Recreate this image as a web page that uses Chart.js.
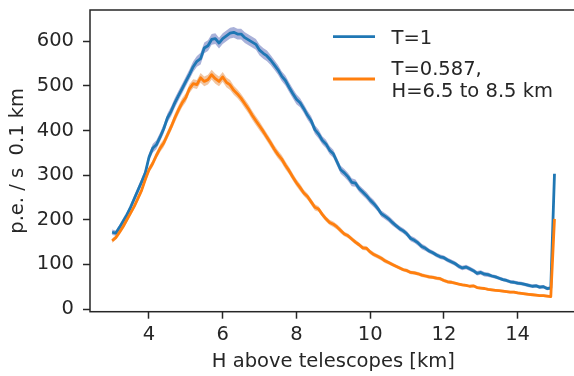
<!DOCTYPE html>
<html>
<head>
<meta charset="utf-8">
<script src="https://cdn.jsdelivr.net/npm/chart.js@4/dist/chart.umd.min.js"></script>
<style>
  html, body { margin: 0; padding: 0; background: #fff; overflow: hidden; }
  #wrap { width: 574px; height: 376px; overflow: hidden; }
</style>
</head>
<body>
<div id="wrap"><canvas id="chart" width="580" height="376"></canvas></div>
<script>
// --- DATOS ---
const alturas = [
  3.0, 3.1, 3.2, 3.3, 3.4, 3.5, 3.6, 3.7, 3.8, 3.9,
  4.0, 4.1, 4.2, 4.3, 4.4, 4.5, 4.6, 4.7, 4.8, 4.9,
  5.0, 5.1, 5.2, 5.3, 5.4, 5.5, 5.6, 5.7, 5.8, 5.9,
  6.0, 6.1, 6.2, 6.3, 6.4, 6.5, 6.6, 6.7, 6.8, 6.9,
  7.0, 7.1, 7.2, 7.3, 7.4, 7.5, 7.6, 7.7, 7.8, 7.9,
  8.0, 8.1, 8.2, 8.3, 8.4, 8.5, 8.6, 8.7, 8.8, 8.9,
  9.0, 9.1, 9.2, 9.3, 9.4, 9.5, 9.6, 9.7, 9.8, 9.9,
  10.0, 10.1, 10.2, 10.3, 10.4, 10.5, 10.6, 10.7, 10.8, 10.9,
  11.0, 11.1, 11.2, 11.3, 11.4, 11.5, 11.6, 11.7, 11.8, 11.9,
  12.0, 12.1, 12.2, 12.3, 12.4, 12.5, 12.6, 12.7, 12.8, 12.9,
  13.0, 13.1, 13.2, 13.3, 13.4, 13.5, 13.6, 13.7, 13.8, 13.9,
  14.0, 14.1, 14.2, 14.3, 14.4, 14.5, 14.6, 14.7, 14.8, 14.9,
  15.0
];

// T=1
const serieT1 = [
  172, 170, 183, 197, 211, 228, 247, 266, 285, 305,
  340, 360, 368, 385, 404, 428, 443, 462, 478, 494,
  510, 526, 543, 555, 561, 585, 590, 604, 606, 596,
  606, 612, 618, 620, 616, 616, 608, 603, 598, 593,
  580, 573, 567, 558, 547, 536, 522, 512, 497, 483,
  470, 462, 449, 434, 422, 402, 392, 378, 370, 356,
  348, 330, 312, 305, 296, 284, 282, 270, 262, 254,
  244, 236, 226, 214, 208, 202, 194, 187, 180, 175,
  168, 158, 154, 148, 140, 136, 130, 126, 121, 117,
  115, 110, 106, 102, 96, 92, 94, 90, 86, 80,
  82, 78, 77, 74, 72, 69, 66, 64, 61, 60,
  58, 57, 55, 53, 51, 52, 49, 50, 46, 47,
  303
];
const errorT1 = [
  6, 6, 6, 7, 7, 7, 8, 8, 8, 9,
  9, 10, 10, 10, 10, 10, 11, 11, 11, 11,
  11, 11, 12, 12, 13, 12, 12, 12, 12, 12,
  12, 12, 12, 12, 12, 12, 12, 12, 12, 12,
  12, 12, 12, 11, 11, 11, 11, 11, 11, 11,
  11, 10, 10, 10, 10, 10, 10, 9, 9, 9,
  9, 9, 9, 9, 9, 9, 8, 8, 8, 8,
  8, 8, 7, 7, 7, 7, 7, 6, 6, 6,
  6, 6, 6, 6, 6, 6, 5, 5, 5, 5,
  5, 5, 5, 5, 5, 5, 5, 5, 5, 5,
  5, 5, 5, 4, 4, 4, 4, 4, 4, 4,
  4, 4, 4, 4, 4, 4, 4, 4, 4, 4,
  7
];

// T=0.587, H=6.5 a 8.5 km
const serieT0587 = [
  153, 160, 172, 185, 200, 215, 230, 248, 266, 290,
  312, 326, 344, 360, 372, 390, 408, 428, 446, 462,
  474, 494, 505, 503, 518, 510, 514, 525, 516, 510,
  520, 508, 502, 490, 482, 472, 460, 448, 434, 422,
  410, 398, 385, 372, 358, 346, 336, 322, 310, 296,
  283, 272, 260, 252, 240, 228, 224, 212, 202, 194,
  190, 184, 176, 168, 164, 157, 150, 144, 137, 136,
  128, 122, 118, 114, 108, 104, 100, 96, 92, 88,
  86, 82, 81, 79, 76, 74, 72, 71, 69, 68,
  64, 61, 60, 58, 56, 54, 53, 51, 52, 48,
  47, 46, 44, 43, 42, 41, 40, 39, 38, 38,
  36, 35, 34, 33, 32, 31, 30, 30, 29, 28,
  202
];
const errorT0587 = [
  5, 5, 6, 6, 6, 6, 6, 7, 7, 7,
  7, 8, 8, 9, 9, 9, 9, 10, 10, 10,
  10, 10, 10, 10, 11, 11, 11, 11, 11, 11,
  11, 11, 11, 10, 10, 10, 10, 10, 10, 10,
  10, 9, 9, 9, 9, 9, 9, 9, 8, 8,
  8, 8, 7, 7, 7, 7, 6, 6, 6, 6,
  6, 6, 6, 5, 5, 5, 5, 5, 5, 5,
  5, 5, 5, 5, 5, 4, 4, 4, 4, 4,
  4, 4, 4, 4, 4, 4, 4, 4, 4, 4,
  4, 4, 4, 3, 3, 3, 3, 3, 3, 3,
  3, 3, 3, 3, 3, 3, 3, 3, 3, 3,
  3, 3, 3, 3, 3, 3, 3, 3, 3, 3,
  6
];

const etiquetasSeries = ['T=1', ['T=0.587,', 'H=6.5 to 8.5 km']];
const ticksX = [4, 6, 8, 10, 12, 14];
const ticksY = [0, 100, 200, 300, 400, 500, 600];

// --- ESTILO ---
const AZUL = '#1f77b4';
const NARANJA = '#ff7f0e';
const BANDA_AZUL = 'rgba(40, 60, 160, 0.4)';
const BANDA_NARANJA = 'rgba(220, 110, 20, 0.4)';
const TEXTO = '#262626';
const FUENTE = { family: 'DejaVu Sans', size: 19.5 };

// puntos {x, y}; si hay error se desplaza hacia arriba (+1) o abajo (-1)
function puntos(vals, err, signo) {
  return alturas.map((h, i) => ({ x: h, y: err ? vals[i] + signo * err[i] : vals[i] }));
}

function banda(vals, err, color, orden) {
  return [
    { data: puntos(vals, err, 1), borderWidth: 0, pointRadius: 0, fill: false, order: orden },
    { data: puntos(vals, err, -1), borderWidth: 0, pointRadius: 0, fill: '-1',
      backgroundColor: color, order: orden }
  ];
}

// marco completo (las 4 líneas del eje) + leyenda dentro del área
const marcoYLeyenda = {
  id: 'marcoYLeyenda',
  afterDraw(chart) {
    const { ctx, chartArea: a } = chart;
    ctx.save();
    ctx.strokeStyle = TEXTO;
    ctx.lineWidth = 1.5;
    ctx.strokeRect(a.left, a.top, a.right - a.left, a.bottom - a.top);

    ctx.font = `${FUENTE.size}px ${FUENTE.family}`;
    ctx.fillStyle = TEXTO;
    ctx.textBaseline = 'alphabetic';
    ctx.lineWidth = 2.8;

    ctx.strokeStyle = AZUL;
    ctx.beginPath(); ctx.moveTo(333, 36.7); ctx.lineTo(375, 36.7); ctx.stroke();
    ctx.fillText(etiquetasSeries[0], 391.5, 43.5);

    ctx.strokeStyle = NARANJA;
    ctx.beginPath(); ctx.moveTo(333, 79); ctx.lineTo(375, 79); ctx.stroke();
    ctx.fillText(etiquetasSeries[1][0], 391.5, 74.5);
    ctx.fillText(etiquetasSeries[1][1], 391.5, 96.8);
    ctx.restore();
  }
};

const chart = new Chart(document.getElementById('chart'), {
  type: 'line',
  data: {
    datasets: [
      { data: puntos(serieT0587), borderColor: NARANJA, borderWidth: 2.8,
        pointRadius: 0, fill: false, order: 0 },
      { data: puntos(serieT1), borderColor: AZUL, borderWidth: 2.8,
        pointRadius: 0, fill: false, order: 1 },
      ...banda(serieT0587, errorT0587, BANDA_NARANJA, 2),
      ...banda(serieT1, errorT1, BANDA_AZUL, 3)
    ]
  },
  options: {
    responsive: false,
    animation: false,
    layout: { padding: { top: 10, right: 3.4, left: 0, bottom: 0 } },
    elements: { line: { tension: 0, borderJoinStyle: 'round', borderCapStyle: 'butt' } },
    plugins: { legend: { display: false }, tooltip: { enabled: false } },
    scales: {
      x: {
        type: 'linear',
        min: 2.4,
        max: 15.6,
        afterBuildTicks: s => { s.ticks = ticksX.map(v => ({ value: v })); },
        afterFit: s => { s.height = 64.3; s.paddingLeft = 0; s.paddingRight = 0; },
        border: { display: false },
        grid: { drawOnChartArea: false, drawTicks: true, tickLength: 7, tickWidth: 1.5, tickColor: TEXTO },
        ticks: { font: FUENTE, color: TEXTO, padding: 5, maxRotation: 0 },
        title: { display: true, text: 'H above telescopes [km]', font: FUENTE, color: TEXTO,
                 padding: { top: 0, bottom: 2.3 } }
      },
      y: {
        type: 'linear',
        min: -6,
        max: 670,
        afterBuildTicks: s => { s.ticks = ticksY.map(v => ({ value: v })); },
        afterFit: s => { s.width = 90; s.paddingTop = 0; s.paddingBottom = 0; },
        border: { display: false },
        grid: { drawOnChartArea: false, drawTicks: true, tickLength: 7, tickWidth: 1.5, tickColor: TEXTO },
        ticks: { font: FUENTE, color: TEXTO, padding: 9 },
        title: { display: true, text: 'p.e. / s  0.1 km', font: FUENTE, color: TEXTO,
                 padding: { top: 6.3, bottom: 6.3 } }
      }
    }
  },
  plugins: [marcoYLeyenda]
});
</script>
</body>
</html>
